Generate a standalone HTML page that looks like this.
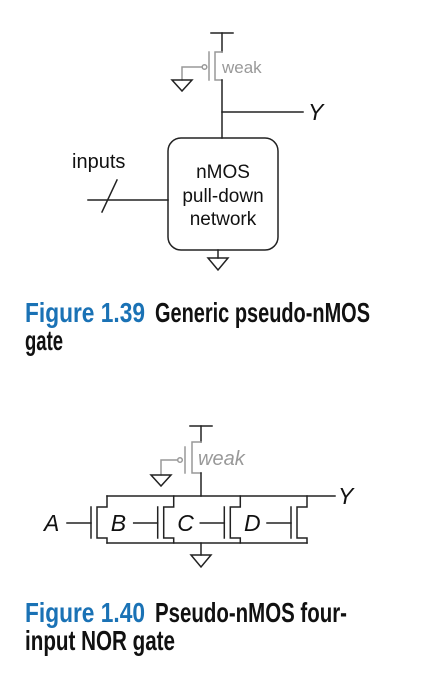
<!DOCTYPE html>
<html><head><meta charset="utf-8"><style>
html,body{margin:0;padding:0;background:#fff;width:422px;height:682px;overflow:hidden}
svg{display:block}
text{font-family:"Liberation Sans",sans-serif}
</style></head><body>
<svg width="422" height="682" viewBox="0 0 422 682" xmlns="http://www.w3.org/2000/svg">
<g fill="none" stroke-width="1.5" stroke-linecap="square">
<line x1="211" y1="33" x2="233" y2="33" stroke="#222"/>
<line x1="222" y1="33" x2="222" y2="52" stroke="#222"/>
<g stroke="#999">
<polyline points="222,52 215,52 215,80 222,80"/>
<line x1="209" y1="52" x2="209" y2="80"/>
<circle cx="204.5" cy="67" r="2.3"/>
<polyline points="202,67 182,67 182,80"/>
</g>
<polygon points="172,80 192,80 182,91" stroke="#222"/>
<line x1="222" y1="80" x2="222" y2="138" stroke="#222"/>
<line x1="222" y1="112" x2="303" y2="112" stroke="#222"/>
<rect x="168" y="138" width="110" height="112" rx="13" stroke="#222"/>
<line x1="218" y1="250" x2="218" y2="258" stroke="#222"/>
<polygon points="208,258 228,258 218,270" stroke="#222"/>
<line x1="88" y1="200" x2="168" y2="200" stroke="#222"/>
<line x1="102" y1="212" x2="117" y2="180" stroke="#222"/>
<line x1="190" y1="426" x2="212" y2="426" stroke="#222"/>
<line x1="201" y1="426" x2="201" y2="442" stroke="#222"/>
<g stroke="#999">
<polyline points="201,442 192,442 192,473 201,473"/>
<line x1="185" y1="447" x2="185" y2="473"/>
<circle cx="180" cy="460" r="2.3"/>
<polyline points="177.5,460 161,460 161,475"/>
</g>
<polygon points="151,475 171,475 161,486" stroke="#222"/>
<line x1="201" y1="473" x2="201" y2="496" stroke="#222"/>
<line x1="107" y1="496" x2="335" y2="496" stroke="#222"/>
<line x1="107" y1="543" x2="307" y2="543" stroke="#222"/>
<line x1="201" y1="543" x2="201" y2="555" stroke="#222"/>
<polygon points="191,555 211,555 201,567" stroke="#222"/>
<g stroke="#222">
<g>
<line x1="91" y1="507" x2="91" y2="538"/>
<polyline points="107,496 107,507 97,507 97,538 107,538 107,543"/>
<line x1="67" y1="523" x2="91" y2="523"/>
</g>
<g transform="translate(66.7,0)">
<line x1="91" y1="507" x2="91" y2="538"/>
<polyline points="107,496 107,507 97,507 97,538 107,538 107,543"/>
<line x1="67" y1="523" x2="91" y2="523"/>
</g>
<g transform="translate(133.3,0)">
<line x1="91" y1="507" x2="91" y2="538"/>
<polyline points="107,496 107,507 97,507 97,538 107,538 107,543"/>
<line x1="67" y1="523" x2="91" y2="523"/>
</g>
<g transform="translate(200,0)">
<line x1="91" y1="507" x2="91" y2="538"/>
<polyline points="107,496 107,507 97,507 97,538 107,538 107,543"/>
<line x1="67" y1="523" x2="91" y2="523"/>
</g>
</g>
</g>
<text x="222" y="73" font-size="17" fill="#999">weak</text>
<text x="308" y="120" font-size="23" font-style="italic" fill="#111">Y</text>
<g font-size="19" fill="#111" text-anchor="middle">
<text x="223" y="178">nMOS</text>
<text x="223" y="202">pull-down</text>
<text x="223" y="225">network</text>
</g>
<text x="72" y="168" font-size="20" fill="#111">inputs</text>
<text x="198" y="465" font-size="20" font-style="italic" fill="#999">weak</text>
<text x="338" y="504" font-size="23" font-style="italic" fill="#111">Y</text>
<g font-size="23" font-style="italic" fill="#111">
<text x="44" y="531">A</text>
<text x="110.7" y="531">B</text>
<text x="177.3" y="531">C</text>
<text x="244" y="531">D</text>
</g>
<g font-size="28" font-weight="bold">
<text x="25" y="322" fill="#1a72b5" textLength="120" lengthAdjust="spacingAndGlyphs">Figure 1.39</text>
<text x="155" y="322" fill="#111" textLength="215" lengthAdjust="spacingAndGlyphs">Generic pseudo-nMOS</text>
<text x="25" y="350" fill="#111" textLength="38" lengthAdjust="spacingAndGlyphs">gate</text>
<text x="25" y="622" fill="#1a72b5" textLength="120" lengthAdjust="spacingAndGlyphs">Figure 1.40</text>
<text x="155" y="622" fill="#111" textLength="192" lengthAdjust="spacingAndGlyphs">Pseudo-nMOS four-</text>
<text x="25" y="650" fill="#111" textLength="150" lengthAdjust="spacingAndGlyphs">input NOR gate</text>
</g>
</svg>
</body></html>
